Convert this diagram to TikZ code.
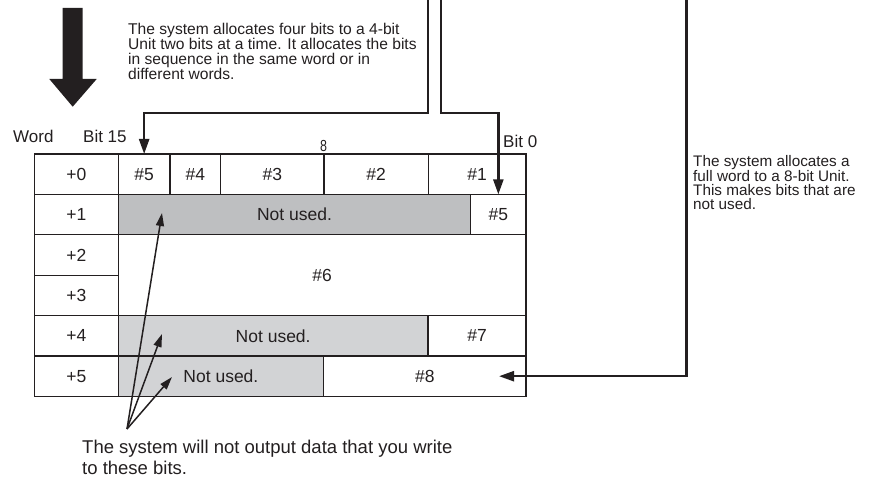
\documentclass[tikz,border=0pt]{standalone}
\usepackage{fontspec}
\setmainfont{Liberation Sans}
\usepackage{graphicx}
\usetikzlibrary{arrows.meta,positioning}
\definecolor{ink}{HTML}{231F20}
\definecolor{unusedA}{HTML}{BEBFC1}
\definecolor{unusedB}{HTML}{D2D3D5}

\begin{document}
\begin{tikzpicture}[x=1pt, y=-1pt,
    font=\fontsize{17.5}{20}\selectfont, text=ink,
    cell/.style={draw=ink, line width=1.3pt, minimum height=40.4pt, inner sep=0pt, outer sep=0pt},
    unused/.style={cell, fill=unusedB},
    head/.style={inner sep=0pt, anchor=base west, font=\fontsize{17}{20}\selectfont},
    note/.style={inner sep=0pt, anchor=north west, align=left},
    conn/.style={draw=ink, line width=2.4pt, -{Triangle[length=15pt,width=10pt]}},
    ptr/.style={draw=ink, line width=1.5pt, -{Triangle[length=13pt,width=8pt]}},
  ]
  \useasboundingbox (0,0) rectangle (886,481);

  % heavy arrow at top left
  \fill[ink] (62.7,8) -- (82.7,8) -- (82.7,79) -- (96.7,79) -- (72.7,106.7)
    -- (49.3,79) -- (62.7,79) -- cycle;

  \node[note, font=\fontsize{15.6}{14.5}\selectfont] (txt4bit) at (128,22.5)
    {The system allocates four bits to a 4-bit\\Unit two bits at a time. It allocates the bits\\
     in sequence in the same word or in\\different words.};
  \node[note, font=\fontsize{15.3}{14}\selectfont] (txt8bit) at (693,155)
    {The system allocates a\\full word to a 8-bit Unit.\\This makes bits that are\\not used.};

  \node[head] (hword) at (13,143) {Word};
  \node[head] (hb15) at (83,143) {Bit 15};
  \node[inner sep=0pt, anchor=base, font=\fontsize{16}{18}\selectfont] (hb8) at (323.5,152) {\scalebox{0.78}[1]{8}};
  \node[head] (hb0) at (503,148) {Bit 0};

  % word +0
  \node[cell, minimum width=83.8pt, anchor=north west] (w0) at (34.5,154) {+0};
  \node[cell, minimum width=51.7pt, right=0pt of w0] (c05) {\#5};
  \node[cell, minimum width=50.7pt, right=0pt of c05] (c04) {\#4};
  \node[cell, minimum width=103.3pt, right=0pt of c04] (c03) {\#3};
  \node[cell, minimum width=104.3pt, right=0pt of c03] (c02) {\#2};
  \node[cell, minimum width=97.7pt, right=0pt of c02] (c01) {\#1};
  % word +1
  \node[cell, minimum width=83.8pt, below=0pt of w0] (w1) {+1};
  \node[unused, fill=unusedA, minimum width=352.4pt, right=0pt of w1] (c1g) {Not used.};
  \node[cell, minimum width=55.3pt, right=0pt of c1g] (c15) {\#5};
  % words +2, +3
  \node[cell, minimum width=83.8pt, below=0pt of w1] (w2) {+2};
  \node[cell, minimum width=83.8pt, below=0pt of w2] (w3) {+3};
  \node[cell, minimum width=407.7pt, minimum height=80.8pt, anchor=north west] (c6) at (w2.north east) {\#6};
  % word +4
  \node[cell, minimum width=83.8pt, below=0pt of w3] (w4) {+4};
  \node[unused, minimum width=309.7pt, right=0pt of w4] (c4g) {Not used.};
  \node[cell, minimum width=98pt, right=0pt of c4g] (c47) {\#7};
  % word +5
  \node[cell, minimum width=83.8pt, below=0pt of w4] (w5) {+5};
  \node[unused, minimum width=205.2pt, right=0pt of w5] (c5g) {Not used.};
  \node[cell, minimum width=202.5pt, right=0pt of c5g] (c58) {\#8};

  \node[note, font=\fontsize{18.5}{21}\selectfont] (txtout) at (82,440)
    {The system will not output data that you write\\to these bits.};

  % allocation connectors
  \coordinate (top1) at (428,0);
  \coordinate (top2) at (441,0);
  \coordinate (top3) at (686.5,0);
  \coordinate (in8) at ([xshift=-27pt]c58.east);
  \draw[conn] (top1) -- ++(0,113) -| (c05.north);
  \draw[conn] (top2) -- ++(0,113) -| (c15.north);
  \draw[conn] (top3) |- (in8);

  % pointers to unused bits
  \coordinate (src) at (127,429);
  \coordinate (nu1) at (162,213);
  \coordinate (nu4) at (162,334);
  \coordinate (nu5) at (172,377);
  \foreach \t in {nu1,nu4,nu5}
    \draw[ptr] (src) -- (\t);
\end{tikzpicture}
\end{document}
